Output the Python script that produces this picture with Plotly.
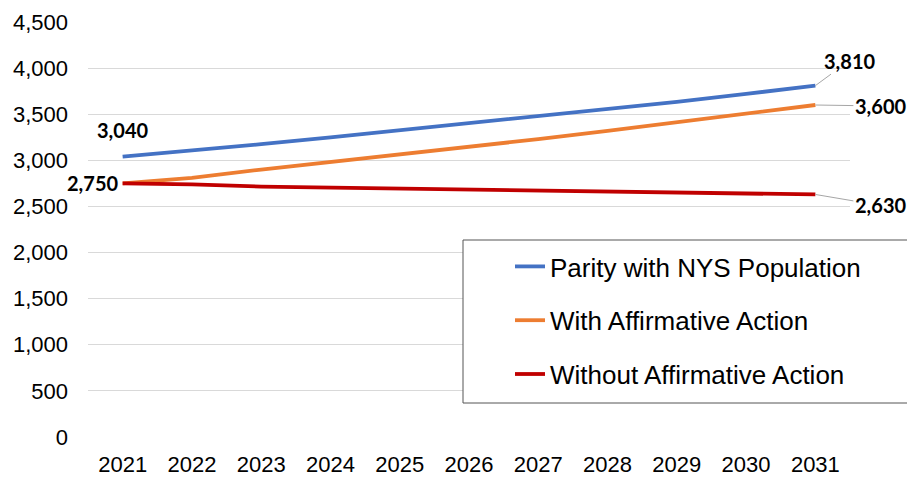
import plotly.graph_objects as go

years = [2021, 2022, 2023, 2024, 2025, 2026, 2027, 2028, 2029, 2030, 2031]
parity = [3040, 3105, 3175, 3250, 3325, 3400, 3475, 3555, 3635, 3720, 3810]
with_aa = [2750, 2810, 2900, 2980, 3060, 3150, 3230, 3320, 3410, 3500, 3600]
without_aa = [2750, 2740, 2715, 2705, 2695, 2685, 2675, 2665, 2650, 2640, 2630]

series_names = ["Parity with NYS Population", "With Affirmative Action", "Without Affirmative Action"]
series_values = [parity, with_aa, without_aa]
series_colors = ["#4472C4", "#ED7D31", "#C00000"]

y_ticks = [0, 500, 1000, 1500, 2000, 2500, 3000, 3500, 4000, 4500]

fig = go.Figure()
for i, (name, vals, col) in enumerate(zip(series_names, series_values, series_colors)):
    fig.add_trace(go.Scatter(
        x=years, y=vals, mode="lines", name=name,
        line=dict(color=col, width=3.8),
        legendgroup=f"g{i}",
    ))

label_font = dict(family="Lato", size=20, color="#000000", weight="bold")
arrow_col = "#A6A6A6"

def fmt(v):
    return f"{v:,}"

# start labels
fig.add_annotation(x=years[0], y=parity[0], text=fmt(parity[0]), showarrow=False,
                   yshift=27, font=label_font)
fig.add_annotation(x=years[0], y=with_aa[0], text=fmt(with_aa[0]), showarrow=False,
                   xshift=-30, font=label_font)
# end labels with leader lines
for vals, ax, ay in [(parity, 34, -25), (with_aa, 65, 1), (without_aa, 65, 11)]:
    fig.add_annotation(x=years[-1], y=vals[-1], text=fmt(vals[-1]), showarrow=True,
                       ax=ax, ay=ay, arrowhead=0, arrowwidth=1, arrowcolor=arrow_col,
                       standoff=0, font=label_font)

# legend box
fig.add_shape(type="rect", xref="paper", yref="paper",
              x0=(463 - 88) / 762, x1=(912 - 88) / 762,
              y0=(437 - 403) / 415, y1=(437 - 240) / 415,
              line=dict(color="#555555", width=1), fillcolor="white", layer="above")

fig.update_layout(
    width=907, height=477,
    margin=dict(l=88, r=57, t=22, b=40),
    paper_bgcolor="white", plot_bgcolor="white",
    font=dict(family="Liberation Sans", size=21, color="#000000"),
    showlegend=True,
    legend=dict(
        x=(510 - 88) / 762, y=(437 - 243) / 415, xanchor="left", yanchor="top",
        bgcolor="rgba(0,0,0,0)", borderwidth=0,
        font=dict(family="Liberation Sans", size=26, color="#000000"),
        traceorder="grouped", tracegroupgap=17,
    ),
    xaxis=dict(
        range=[2020.5, 2031.5], tickvals=years, ticktext=[str(y) for y in years],
        showgrid=False, zeroline=False, showline=False, ticks="",
        ticklabelstandoff=12, automargin=False,
        tickfont=dict(size=22),
    ),
    yaxis=dict(
        range=[0, 4500], tickvals=y_ticks, tickformat=",",
        showgrid=True, gridcolor="#D9D9D9", gridwidth=1,
        zeroline=False, showline=False, ticks="",
        ticklabelstandoff=19, automargin=False,
        tickfont=dict(size=22),
    ),
)

fig.write_html("out.html")
